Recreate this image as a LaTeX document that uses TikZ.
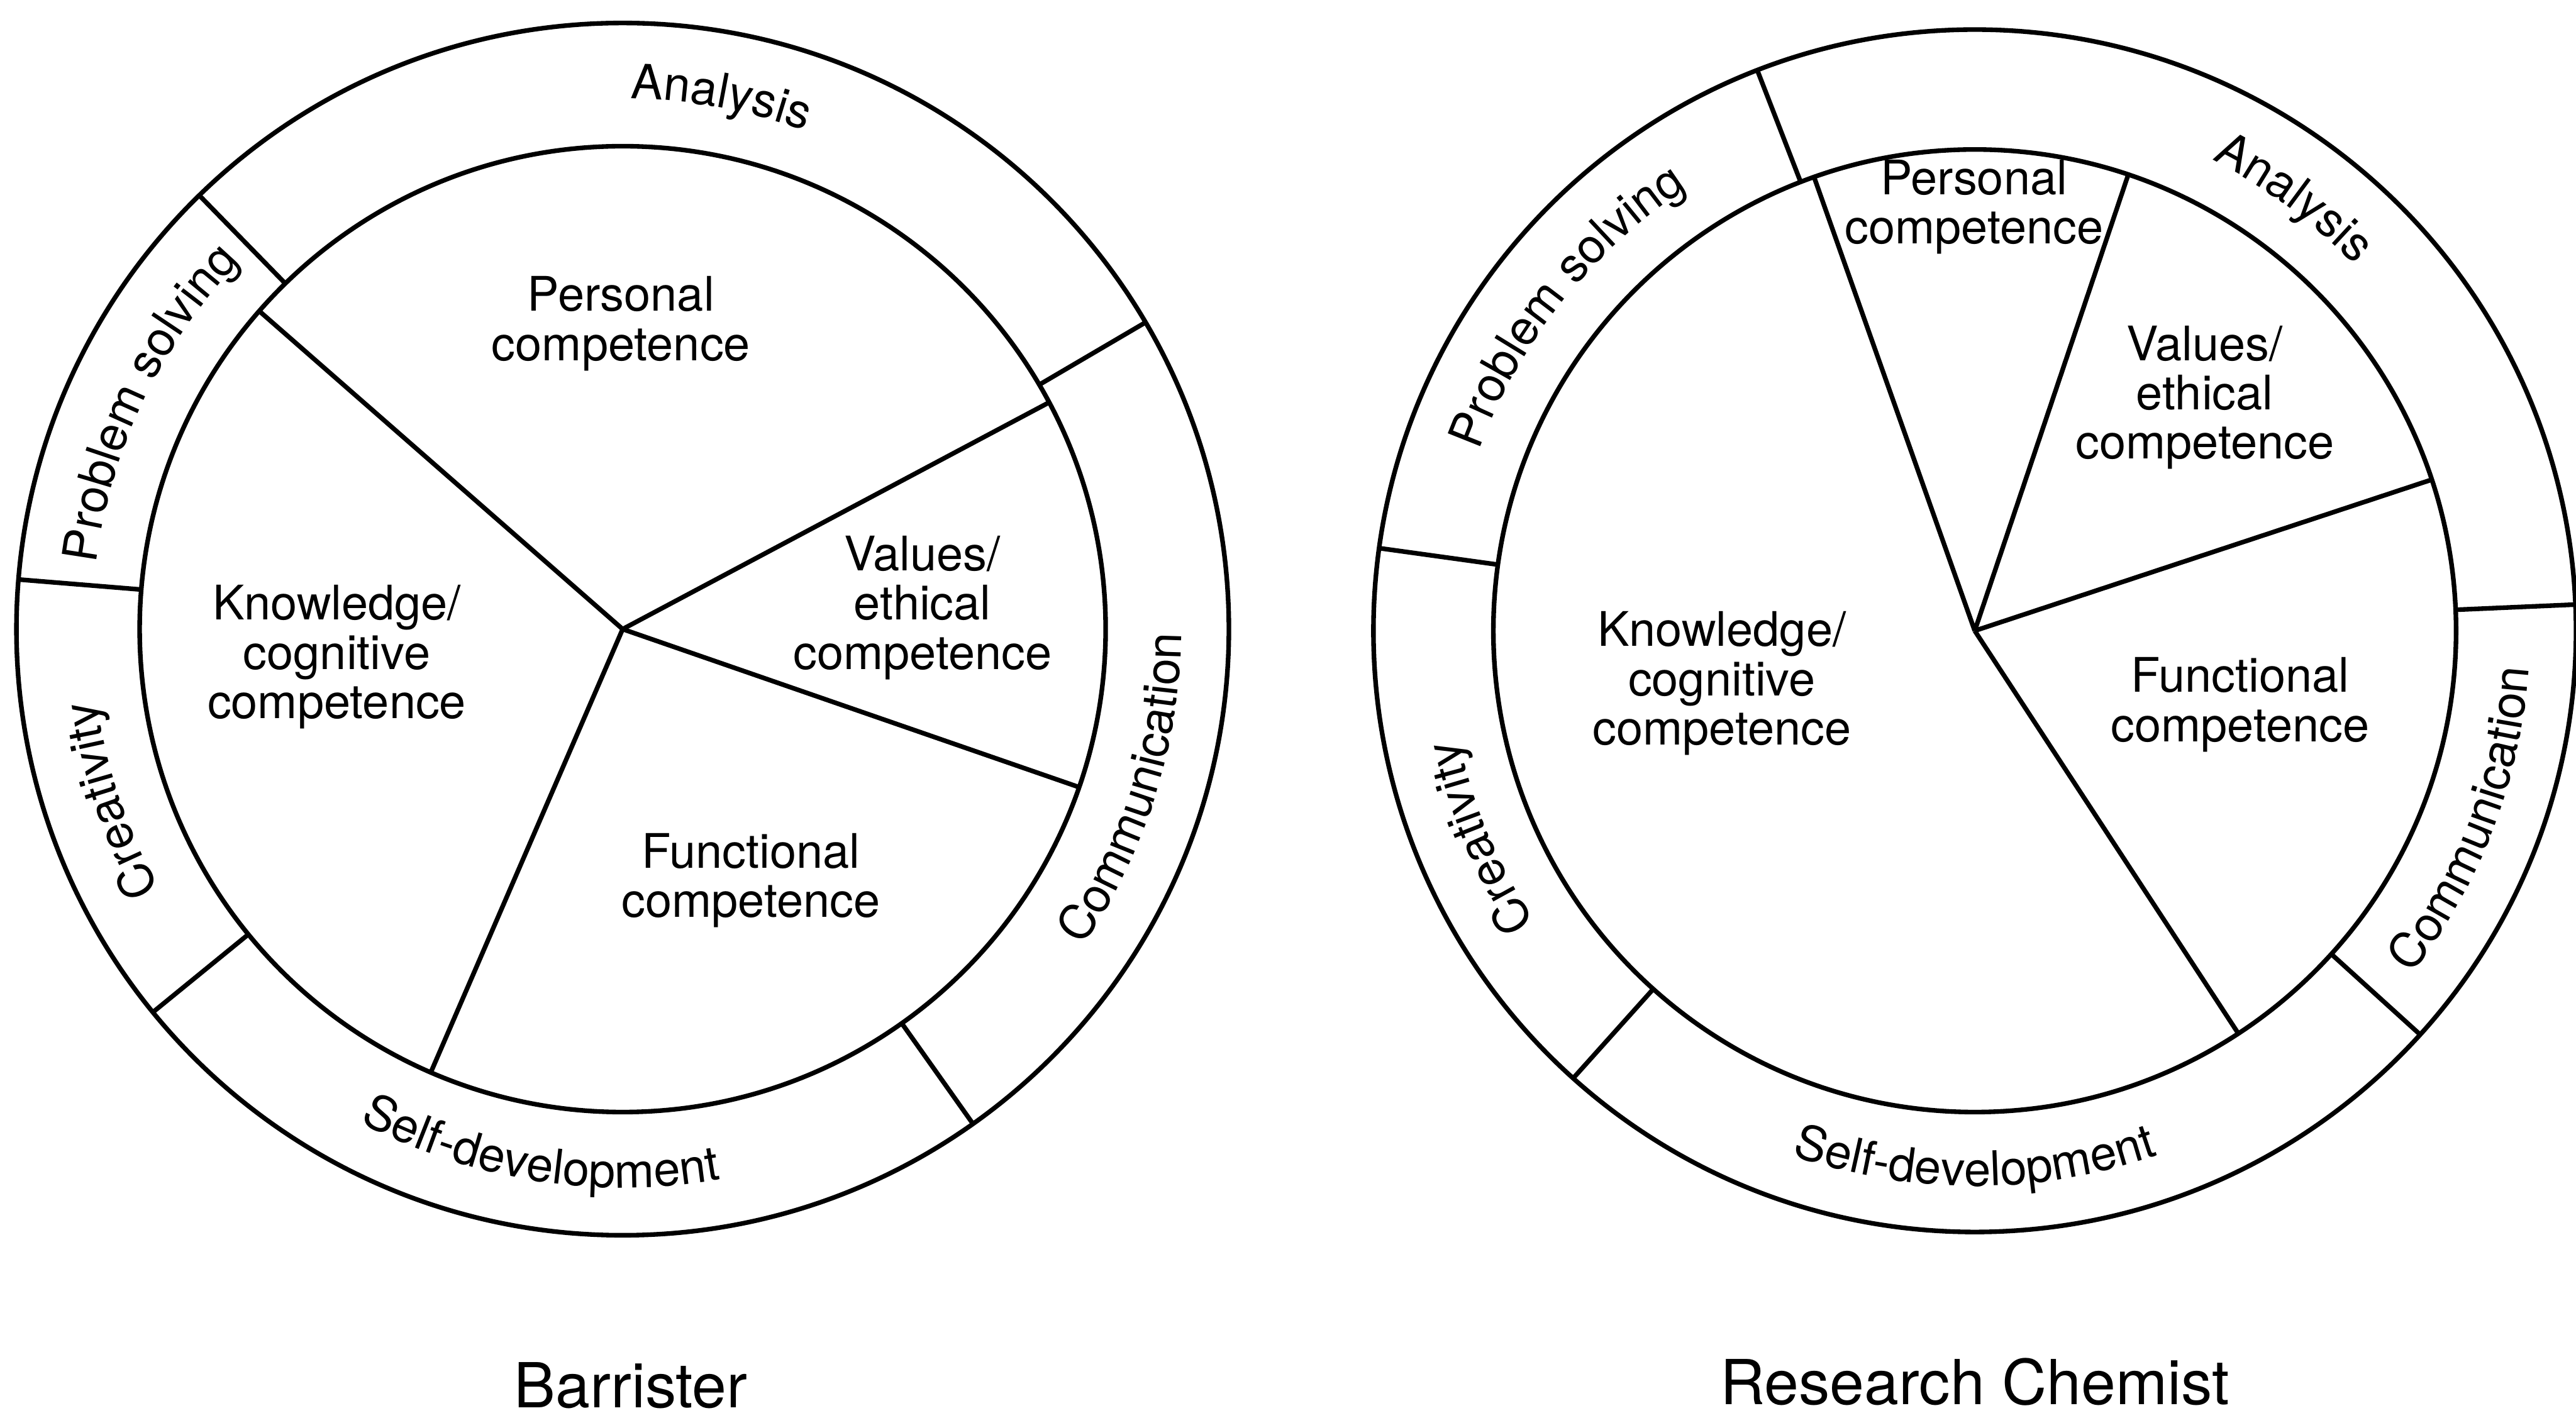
\documentclass[tikz,border=0pt]{standalone}
\usepackage{fontspec}
\setmainfont{TeX Gyre Heros}
\usetikzlibrary{decorations.text}
\newcommand\ringfont{\fontsize{16.6}{18}\selectfont}
\newcommand\ringcw[4]{\path[decorate,decoration={text along path,text align=center,text={|\ringfont|#4}}] (#1) ++({#3+40}:#2) arc[start angle={#3+40},end angle={#3-40},radius=#2];}
\newcommand\ringccw[4]{\path[decorate,decoration={text along path,text align=center,text={|\ringfont|#4}}] (#1) ++({#3-40}:#2) arc[start angle={#3-40},end angle={#3+40},radius=#2];}
\begin{document}
\begin{tikzpicture}[x=0.02cm,y=0.02cm,line width=1.6pt,line join=round,
  seg/.style={font=\fontsize{16.5}{17.1}\selectfont,align=center,inner sep=0pt},
  title/.style={font=\fontsize{21.5}{24}\selectfont,anchor=base,inner sep=0pt}]
\useasboundingbox (0,0) rectangle (1568,863);
\coordinate (L) at (379,480);
\coordinate (R) at (1202,479);
% ---------- Barrister ----------
\draw (L) circle[radius=369];
\draw (L) circle[radius=294];
\foreach \a in {138.8,28,-19.1,-113.4} \draw (L) -- ++(\a:294);
\foreach \a in {134.3,30.4,-54.7,219.2,175.3} \draw (L) ++(\a:294) -- ++(\a:75);
\node[seg] (lpers) at (378,666) {Personal\\competence};
\node[seg] (lknow) at (205,463) {Knowledge/\\cognitive\\competence};
\node[seg] (lval)  at (561.5,493) {Values/\\ethical\\competence};
\node[seg] (lfun)  at (457,327) {Functional\\competence};
\ringcw{L}{323}{79.5}{Analysis}
\ringcw{L}{323}{154.5}{Problem solving}
\ringcw{L}{323}{198.5}{Creativity}
\ringccw{L}{340}{261}{Self-development}
\ringccw{L}{340}{-17.5}{Communication}
\node[title] (ltitle) at (384,6) {Barrister};
% ---------- Research Chemist ----------
\draw (R) circle[radius=366];
\draw (R) circle[radius=293];
\foreach \a in {109.5,71.4,18.3,-56.8} \draw (R) -- ++(\a:293);
\foreach \a in {111.2,2.5,-42.2,228.1,172.1} \draw (R) ++(\a:293) -- ++(\a:73);
\node[seg] (rpers) at (1201.5,737) {Personal\\competence};
\node[seg] (rval)  at (1342,621) {Values/\\ethical\\competence};
\node[seg] (rknow) at (1048,447) {Knowledge/\\cognitive\\competence};
\node[seg] (rfun)  at (1363.5,434) {Functional\\competence};
\ringcw{R}{321}{53.6}{Analysis}
\ringcw{R}{321}{141.5}{Problem solving}
\ringcw{R}{321}{202.7}{Creativity}
\ringccw{R}{338}{270}{Self-development}
\ringccw{R}{338}{-21}{Communication}
\node[title] (rtitle) at (1202,8) {Research Chemist};
\end{tikzpicture}
\end{document}
